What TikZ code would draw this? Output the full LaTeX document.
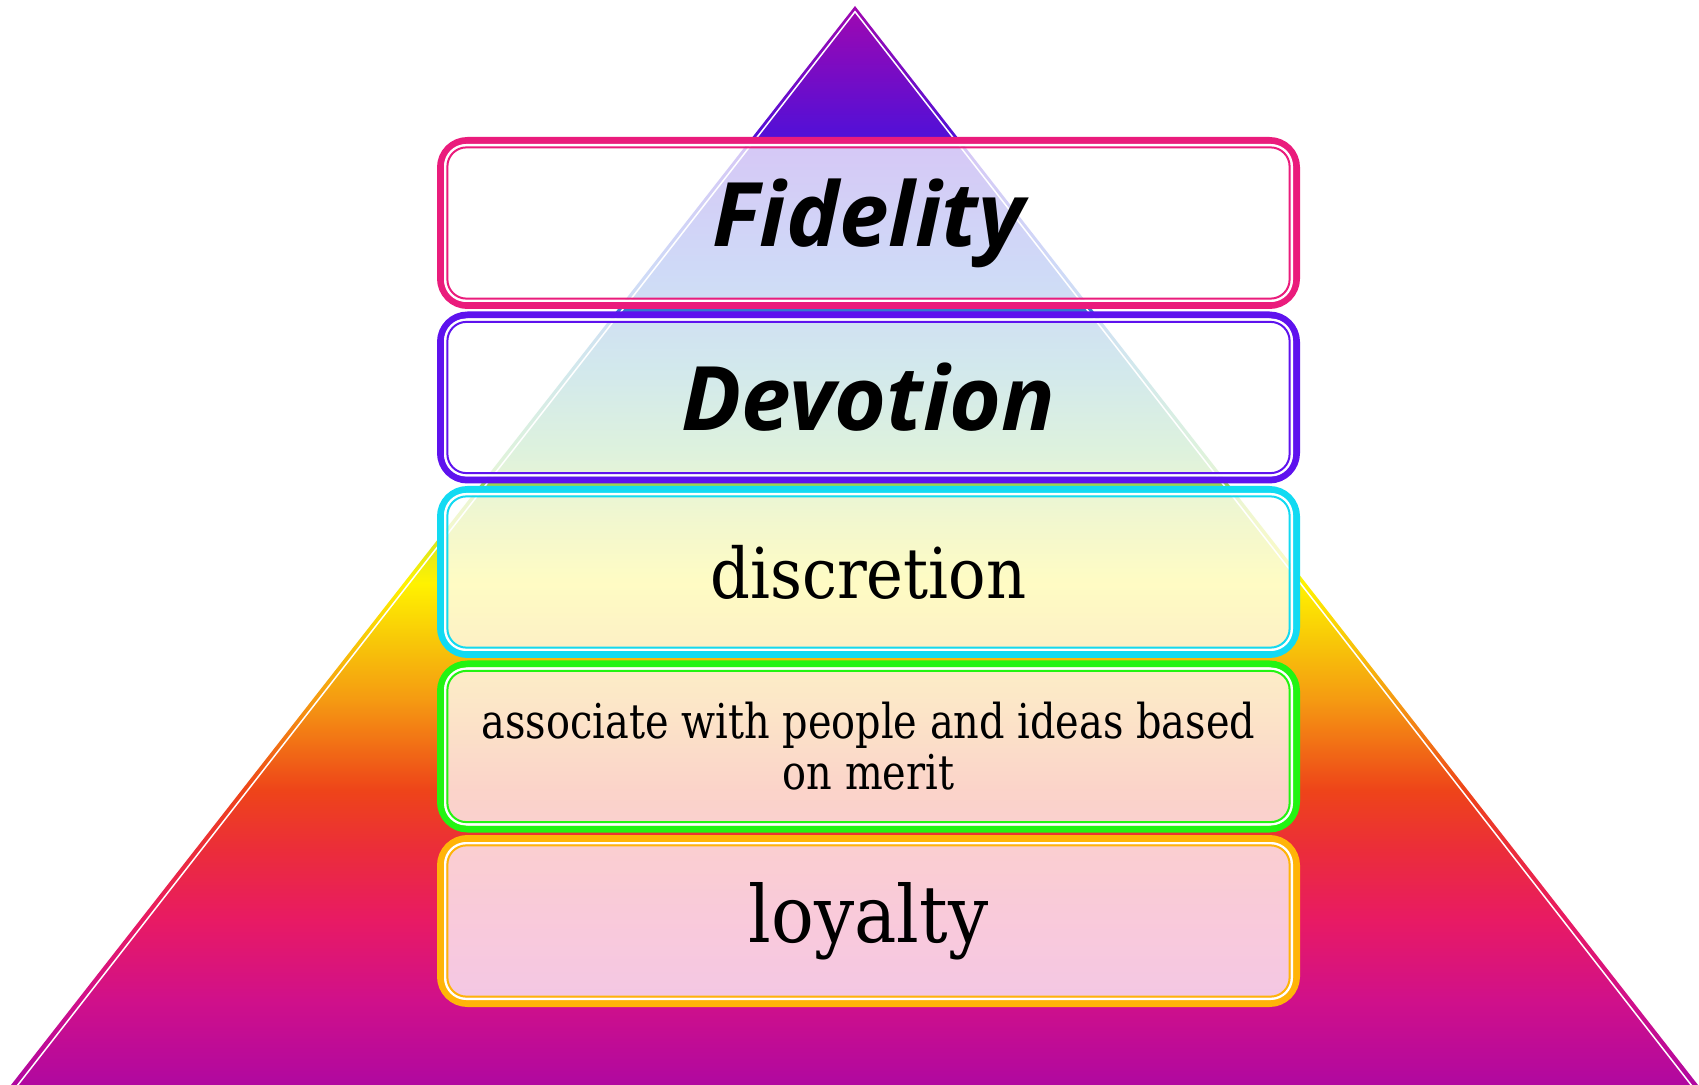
\documentclass[tikz,border=0pt]{standalone}
\usepackage{fontspec}
\usetikzlibrary{calc}
\newfontfamily\headfont{Open Sans}
\newfontfamily\serifA{DejaVu Serif}[FakeStretch=0.89]
\newfontfamily\serifB{DejaVu Serif}[FakeStretch=0.83]
\newfontfamily\serifC{DejaVu Serif}[FakeStretch=0.9]
\definecolor{cPink}{HTML}{EA1C7C}
\definecolor{cViolet}{HTML}{5E12EE}
\definecolor{cCyan}{HTML}{12DAF2}
\definecolor{cGreen}{HTML}{22F412}
\definecolor{cOrange}{HTML}{FFB408}
\definecolor{g1}{HTML}{B008A0}
\definecolor{g2}{HTML}{D0108A}
\definecolor{g3}{HTML}{E81A64}
\definecolor{g4}{HTML}{EB2D3A}
\definecolor{g5}{HTML}{EE4419}
\definecolor{g6}{HTML}{F59A12}
\definecolor{g7}{HTML}{F8C808}
\definecolor{g8}{HTML}{FFF200}
\definecolor{g9}{HTML}{C8E030}
\definecolor{g10}{HTML}{70C870}
\definecolor{g11}{HTML}{40A0B0}
\definecolor{g12}{HTML}{3060E0}
\definecolor{g13}{HTML}{5010D8}
\definecolor{g14}{HTML}{A008B0}
\pgfdeclareverticalshading{pyrshade}{100bp}{color(0bp)=(g1); color(25bp)=(g1); color(28.94bp)=(g2); color(32.65bp)=(g3); color(35.89bp)=(g4); color(38.67bp)=(g5); color(42.84bp)=(g6); color(45.62bp)=(g7); color(48.26bp)=(g8); color(51.18bp)=(g9); color(54.43bp)=(g10); color(58.13bp)=(g11); color(62.77bp)=(g12); color(68.79bp)=(g13); color(75bp)=(g14); color(100bp)=(g14)}
\begin{document}
\begin{tikzpicture}[x=0.5pt,y=-0.5pt,
  tierbox/.style={draw=#1, line width=3.5pt, rounded corners=13.5pt, fill=white,
    fill opacity=0.77, text opacity=1, minimum width=428pt, minimum height=82.5pt,
    inner sep=0pt, outer sep=0pt, align=center},
  whiteline/.style={draw=white, line width=1.2pt, rounded corners=10.5pt},
  thinline/.style={draw=#1, line width=1pt, rounded corners=9.5pt},
  headtxt/.style={font=\headfont\bfseries\itshape\fontsize{44.5}{50}\selectfont}]
\useasboundingbox (0,0) rectangle (1699,1085);
\fill[white] (0,0) rectangle (1699,1085);
% pyramid
\coordinate (apex) at (855,6);
\coordinate (bl) at (11,1085);
\coordinate (br) at (1698,1085);
\shade[shading=pyrshade] (apex) -- (br) -- (bl) -- cycle;
\coordinate (iapex) at (855,11.7);
\coordinate (ibl) at (13.9,1090);
\coordinate (ibr) at (1695.1,1090);
\draw[white, line width=0.75pt] (ibl) -- (iapex) -- (ibr);
% tiers (node boundary = centre of the thick border)
\node[tierbox=cPink, headtxt] (t1) at (868.5,223) {Fidelity};
\node[tierbox=cViolet, headtxt] (t2) at (868.5,397.5) {Devotion};
\node[tierbox=cCyan, font=\serifA\fontsize{35}{40}\selectfont] (t3) at (868.5,572) {discretion};
\node[tierbox=cGreen, font=\serifB\fontsize{24}{25.5}\selectfont] (t4) at (868.5,746.5) {associate with people and ideas based\\on merit};
\node[tierbox=cOrange, font=\serifC\fontsize{39.5}{44}\selectfont] (t5) at (868.5,921) {loyalty};
\foreach \n/\c in {t1/cPink,t2/cViolet,t3/cCyan,t4/cGreen,t5/cOrange}{
  \draw[whiteline] ($(\n.north west)+(4.7,4.7)$) rectangle ($(\n.south east)+(-4.7,-4.7)$);
  \draw[thinline=\c] ($(\n.north west)+(6.9,6.9)$) rectangle ($(\n.south east)+(-6.9,-6.9)$);
}
\end{tikzpicture}
\end{document}
